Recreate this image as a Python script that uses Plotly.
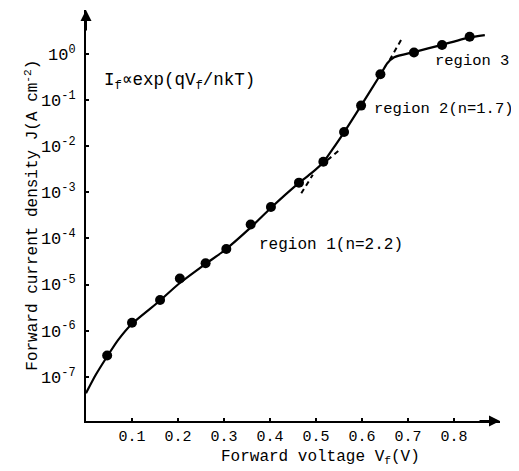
import plotly.graph_objects as go

# Measured data points (forward voltage V, current density A/cm^2)
v_pts = [0.046, 0.100, 0.161, 0.204, 0.260, 0.305, 0.358, 0.402, 0.463, 0.516,
         0.561, 0.598, 0.640, 0.713, 0.774, 0.834]
j_pts = [2.9e-7, 1.48e-6, 4.6e-6, 1.35e-5, 2.9e-5, 5.9e-5, 2.0e-4, 4.8e-4, 1.62e-3, 4.6e-3,
         2.04e-2, 7.6e-2, 0.363, 1.08, 1.57, 2.37]

# Fitted solid curve
v_fit = [0.0, 0.02, 0.046, 0.07, 0.10, 0.16, 0.20, 0.26, 0.30, 0.36, 0.40, 0.463, 0.49,
         0.516, 0.535, 0.561, 0.598, 0.640, 0.655, 0.670, 0.713, 0.774, 0.834, 0.867]
j_fit = [4.4e-8, 1.05e-7, 2.75e-7, 6.3e-7, 1.41e-6, 4.4e-6, 1.0e-5, 2.8e-5, 5.4e-5, 1.8e-4,
         4.4e-4, 1.6e-3, 2.6e-3, 4.5e-3, 8.3e-3, 2.0e-2, 7.6e-2, 0.355, 0.63, 0.85, 1.1,
         1.58, 2.29, 2.57]

# Dashed extrapolations
v_dash_r2_low = [0.468, 0.493]
j_dash_r2_low = [9.5e-4, 2.4e-3]
v_dash_r1_up = [0.525, 0.555]
j_dash_r1_up = [5.0e-3, 8.9e-3]
v_dash_r2_up = [0.660, 0.689]
j_dash_r2_up = [0.74, 2.37]

x_ticks = [0.1, 0.2, 0.3, 0.4, 0.5, 0.6, 0.7, 0.8]
x_ticktext = ["0.1", "0.2", "0.3", "0.4", "0.5", "0.6", "0.7", "0.8"]
y_ticks = [1e-7, 1e-6, 1e-5, 1e-4, 1e-3, 1e-2, 1e-1, 1e0]
y_ticktext = ["10<sup>-7</sup>", "10<sup>-6</sup>", "10<sup>-5</sup>", "10<sup>-4</sup>",
              "10<sup>-3</sup>", "10<sup>-2</sup>", "10<sup>-1</sup>", "10<sup>0</sup>"]

FONT = "Liberation Mono, Courier New, monospace"

fig = go.Figure()
fig.add_trace(go.Scatter(x=v_fit, y=j_fit, mode="lines",
                         line=dict(color="black", width=2.2, shape="spline", smoothing=0.5),
                         hoverinfo="skip"))
for vx, jy in [(v_dash_r2_low, j_dash_r2_low), (v_dash_r1_up, j_dash_r1_up),
               (v_dash_r2_up, j_dash_r2_up)]:
    fig.add_trace(go.Scatter(x=vx, y=jy, mode="lines",
                             line=dict(color="black", width=2, dash="5px,4px")))
fig.add_trace(go.Scatter(x=v_pts, y=j_pts, mode="markers",
                         marker=dict(color="black", size=10)))

axis_common = dict(showline=True, linecolor="black", linewidth=2, ticks="inside",
                   ticklen=3, tickwidth=1.5, tickcolor="black", showgrid=False,
                   zeroline=False)

fig.update_xaxes(range=[0, 0.9], tickvals=x_ticks, ticktext=x_ticktext,
                 ticklabelstandoff=0,
                 tickfont=dict(family=FONT, size=15, color="black"), **axis_common)
fig.update_yaxes(type="log", range=[-7.96, 0.954], tickvals=y_ticks, ticktext=y_ticktext,
                 ticklabelstandoff=5,
                 tickfont=dict(family=FONT, size=17, color="black"), **axis_common)

annots = [
    dict(x=0.567, y=-0.09, text="Forward voltage V<sub>f</sub>(V)", xanchor="center",
         yanchor="middle", size=16),
    dict(x=-0.130, y=0.50, text="Forward current density J(A cm<sup>-2</sup>)",
         textangle=-90, xanchor="center", yanchor="middle", size=16),
    dict(x=0.038, y=0.827, text="I<sub>f</sub>∝exp(qV<sub>f</sub>/nkT)", xanchor="left",
         yanchor="middle", size=17.5),
    dict(x=0.838, y=0.876, text="region 3", xanchor="left", yanchor="middle", size=15.5),
    dict(x=0.690, y=0.759, text="region 2(n=1.7)", xanchor="left", yanchor="middle",
         size=15.5),
    dict(x=0.413, y=0.428, text="region 1(n=2.2)", xanchor="left", yanchor="middle",
         size=16),
]
for a in annots:
    sz = a.pop("size")
    fig.add_annotation(xref="paper", yref="paper", showarrow=False,
                       font=dict(family=FONT, size=sz, color="black"), **a)

# axis arrowheads
fig.add_annotation(xref="paper", yref="paper", x=0, y=1, ax=0, ay=22, text="",
                   showarrow=True, arrowhead=2, arrowsize=1.1, arrowwidth=2,
                   arrowcolor="black")
fig.add_annotation(xref="paper", yref="paper", x=1, y=0, ax=-22, ay=0, text="",
                   showarrow=True, arrowhead=2, arrowsize=1.1, arrowwidth=2,
                   arrowcolor="black")

# page body adds an 8px margin; compensate so the plot area lands where the reference's does
fig.update_layout(width=511, height=463, margin=dict(l=78, r=19, t=2, b=50),
                  paper_bgcolor="white", plot_bgcolor="white", showlegend=False)

fig.write_html("out.html")
